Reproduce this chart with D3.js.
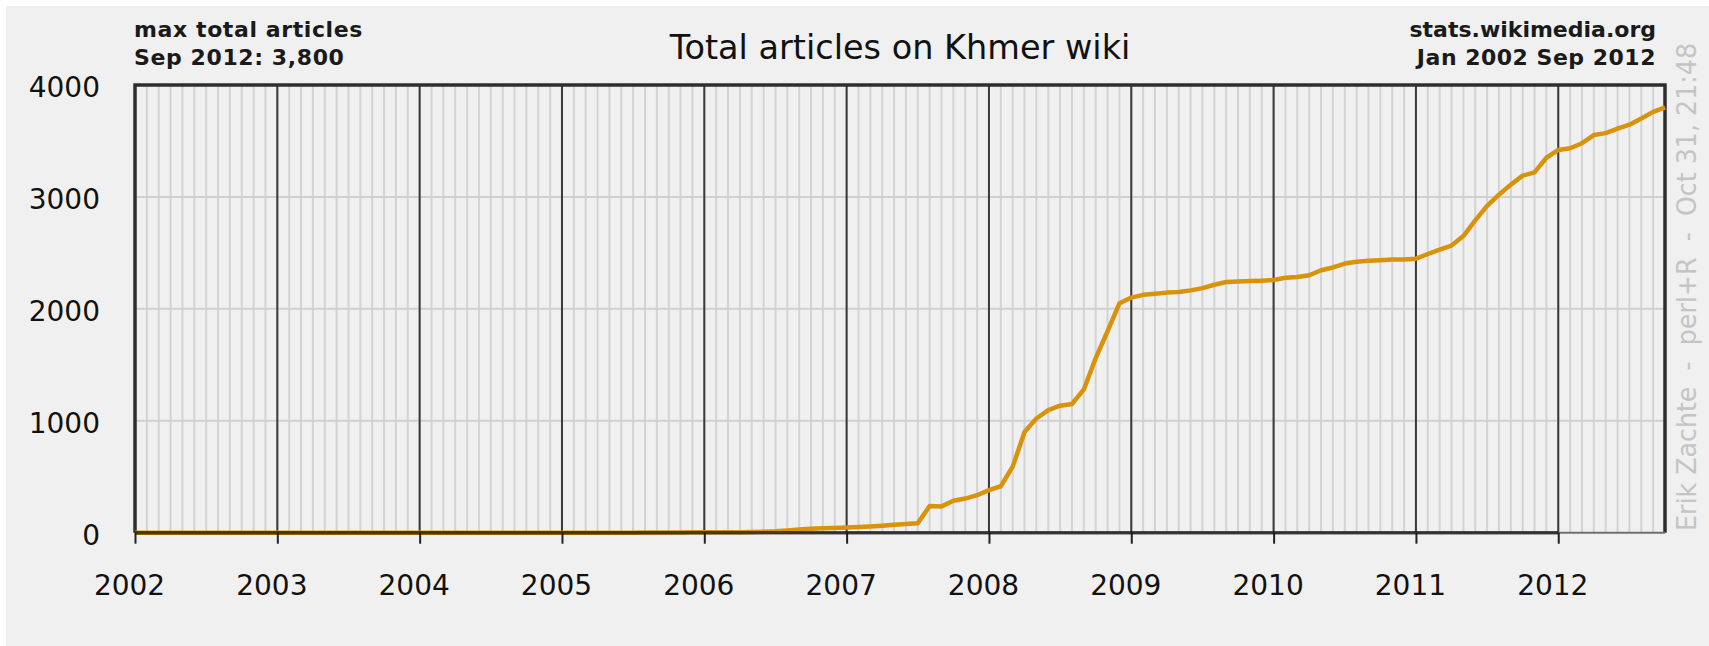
<!DOCTYPE html>
<html>
<head>
<meta charset="utf-8">
<script src="https://cdn.jsdelivr.net/npm/d3@7"></script>
<style>
  html, body { margin: 0; padding: 0; background: #ffffff; }
  svg { display: block; font-family: "DejaVu Sans", sans-serif; }
</style>
</head>
<body>
<svg id="chart" width="1709" height="646"></svg>
<script>
// ---- data (monthly totals, Jan 2002 .. Sep 2012) ----
var years = [2002, 2003, 2004, 2005, 2006, 2007, 2008, 2009, 2010, 2011, 2012];
var yTicks = [0, 1000, 2000, 3000, 4000];
var gridValues = [1000, 2000, 3000];

var a2002 = [0, 0, 0, 0, 0, 0, 0, 0, 0, 0, 0, 0];
var a2003 = [0, 0, 0, 0, 0, 0, 0, 0, 0, 0, 0, 0];
var a2004 = [0, 0, 0, 0, 0, 0, 0, 0, 0, 0, 0, 0];
var a2005 = [0, 0, 0, 0, 0, 0, 1, 1, 2, 2, 3, 3];
var a2006 = [3, 4, 5, 6, 8, 12, 20, 28, 35, 40, 43, 47];
var a2007 = [50, 55, 62, 70, 78, 85, 238, 235, 285, 305, 335, 380];
var a2008 = [415, 590, 900, 1020, 1095, 1135, 1150, 1280, 1560, 1800, 2050, 2100];
var a2009 = [2125, 2135, 2145, 2150, 2165, 2185, 2215, 2240, 2245, 2248, 2252, 2258];
var a2010 = [2278, 2285, 2300, 2345, 2370, 2405, 2420, 2430, 2435, 2440, 2442, 2448];
var a2011 = [2490, 2530, 2565, 2650, 2790, 2920, 3020, 3110, 3190, 3220, 3350, 3420];
var a2012 = [3435, 3480, 3553, 3570, 3610, 3645, 3700, 3760, 3800];

var articles = [].concat(a2002, a2003, a2004, a2005, a2006, a2007, a2008, a2009, a2010, a2011, a2012);

var titleText = "Total articles on Khmer wiki";
var leftNote = ["max total articles", "Sep 2012: 3,800"];
var rightNote = ["stats.wikimedia.org", "Jan 2002 Sep 2012"];
var credit = "Erik Zachte  -  perl+R  -  Oct 31, 21:48";

// ---- layout ----
var svg = d3.select("#chart");
var plotL = 135, plotR = 1665, plotT = 85, plotB = 532.7;

var x = d3.scaleLinear().domain([2002, 2012.75]).range([plotL, plotR]);
var y = d3.scaleLinear().domain([0, 4000]).range([plotB, plotT]);

svg.append("rect")
  .attr("x", 6).attr("y", 6).attr("width", 1709).attr("height", 646)
  .attr("fill", "#f0f0f0");

// monthly light grid
var monthLines = d3.range(1, 129).map(function(i) { return 2002 + i / 12; });
svg.append("g").selectAll("line")
  .data(monthLines)
  .join("line")
  .attr("x1", function(d) { return x(d); }).attr("x2", function(d) { return x(d); })
  .attr("y1", plotT).attr("y2", plotB)
  .attr("stroke", "#d3d3d3").attr("stroke-width", 2);

// horizontal grid
svg.append("g").selectAll("line")
  .data(gridValues)
  .join("line")
  .attr("x1", plotL).attr("x2", plotR)
  .attr("y1", function(d) { return y(d); }).attr("y2", function(d) { return y(d); })
  .attr("stroke", "#d0d0d0").attr("stroke-width", 2);

// year lines
svg.append("g").selectAll("line")
  .data(years.slice(1))
  .join("line")
  .attr("x1", function(d) { return x(d); }).attr("x2", function(d) { return x(d); })
  .attr("y1", plotT).attr("y2", plotB)
  .attr("stroke", "#3a3a3a").attr("stroke-width", 2);

// frame
svg.append("path")
  .attr("d", "M" + plotL + "," + plotB + "V" + plotT + "H" + plotR + "V" + plotB)
  .attr("fill", "none").attr("stroke", "#2e2e2e").attr("stroke-width", 3.5);
svg.append("line")
  .attr("x1", plotL).attr("x2", plotR).attr("y1", plotB).attr("y2", plotB)
  .attr("stroke", "#707070").attr("stroke-width", 2);

// data line (each month's value plotted at month end, starting from 0)
var pts = [0].concat(articles);
var line = d3.line()
  .x(function(d, i) { return x(2002 + i / 12); })
  .y(function(d) { return y(d); });

svg.append("path")
  .datum(pts)
  .attr("d", line)
  .attr("fill", "none")
  .attr("stroke", "#d8930a")
  .attr("stroke-width", 4.5)
  .attr("stroke-linejoin", "round");

// x axis
var xAxis = d3.axisBottom(x)
  .tickValues(years)
  .tickSize(11)
  .tickFormat(d3.format("d"));

var gx = svg.append("g")
  .attr("transform", "translate(0," + plotB + ")")
  .call(xAxis);
gx.select(".domain").remove();
gx.selectAll(".tick line").attr("stroke", "#222").attr("stroke-width", 2);
gx.selectAll(".tick text")
  .attr("y", 62).attr("dy", 0).attr("dx", -6)
  .attr("fill", "#111")
  .style("font-size", "28px")
  .style("font-family", "DejaVu Sans");

svg.append("line")
  .attr("x1", x(2002)).attr("x2", x(2012))
  .attr("y1", plotB).attr("y2", plotB)
  .attr("stroke", "#111").attr("stroke-width", 3.5)
  .attr("stroke-opacity", 0.7);

// y axis labels
var yAxis = d3.axisLeft(y)
  .tickValues(yTicks)
  .tickSize(0)
  .tickPadding(35)
  .tickFormat(d3.format("d"));

var gy = svg.append("g")
  .attr("transform", "translate(" + plotL + ",0)")
  .call(yAxis);
gy.select(".domain").remove();
gy.selectAll(".tick text")
  .attr("dy", 11.5)
  .attr("fill", "#111")
  .style("font-size", "28px")
  .style("font-family", "DejaVu Sans");

// title and notes
svg.append("text")
  .attr("x", (plotL + plotR) / 2).attr("y", 59)
  .attr("text-anchor", "middle")
  .attr("fill", "#111")
  .style("font-size", "33.5px")
  .text(titleText);

svg.append("g").selectAll("text")
  .data(leftNote)
  .join("text")
  .attr("x", 134)
  .attr("y", function(d, i) { return 36.5 + i * 28.5; })
  .attr("fill", "#1a1a1a")
  .style("font-size", "22px").style("font-weight", "600")
  .style("letter-spacing", "0.6px")
  .text(function(d) { return d; });

svg.append("g").selectAll("text")
  .data(rightNote)
  .join("text")
  .attr("x", 1656)
  .attr("y", function(d, i) { return 36.5 + i * 28.5; })
  .attr("text-anchor", "end")
  .attr("fill", "#1a1a1a")
  .style("font-size", "22px").style("font-weight", "600")
  .style("letter-spacing", function(d, i) { return i ? "0.5px" : "0px"; })
  .text(function(d) { return d; });

svg.append("text")
  .attr("transform", "translate(1696,531) rotate(-90)")
  .attr("fill", "#c4c4c4")
  .style("font-size", "26px")
  .style("white-space", "pre")
  .attr("textLength", 488)
  .attr("lengthAdjust", "spacingAndGlyphs")
  .text(credit);
</script>
</body>
</html>
